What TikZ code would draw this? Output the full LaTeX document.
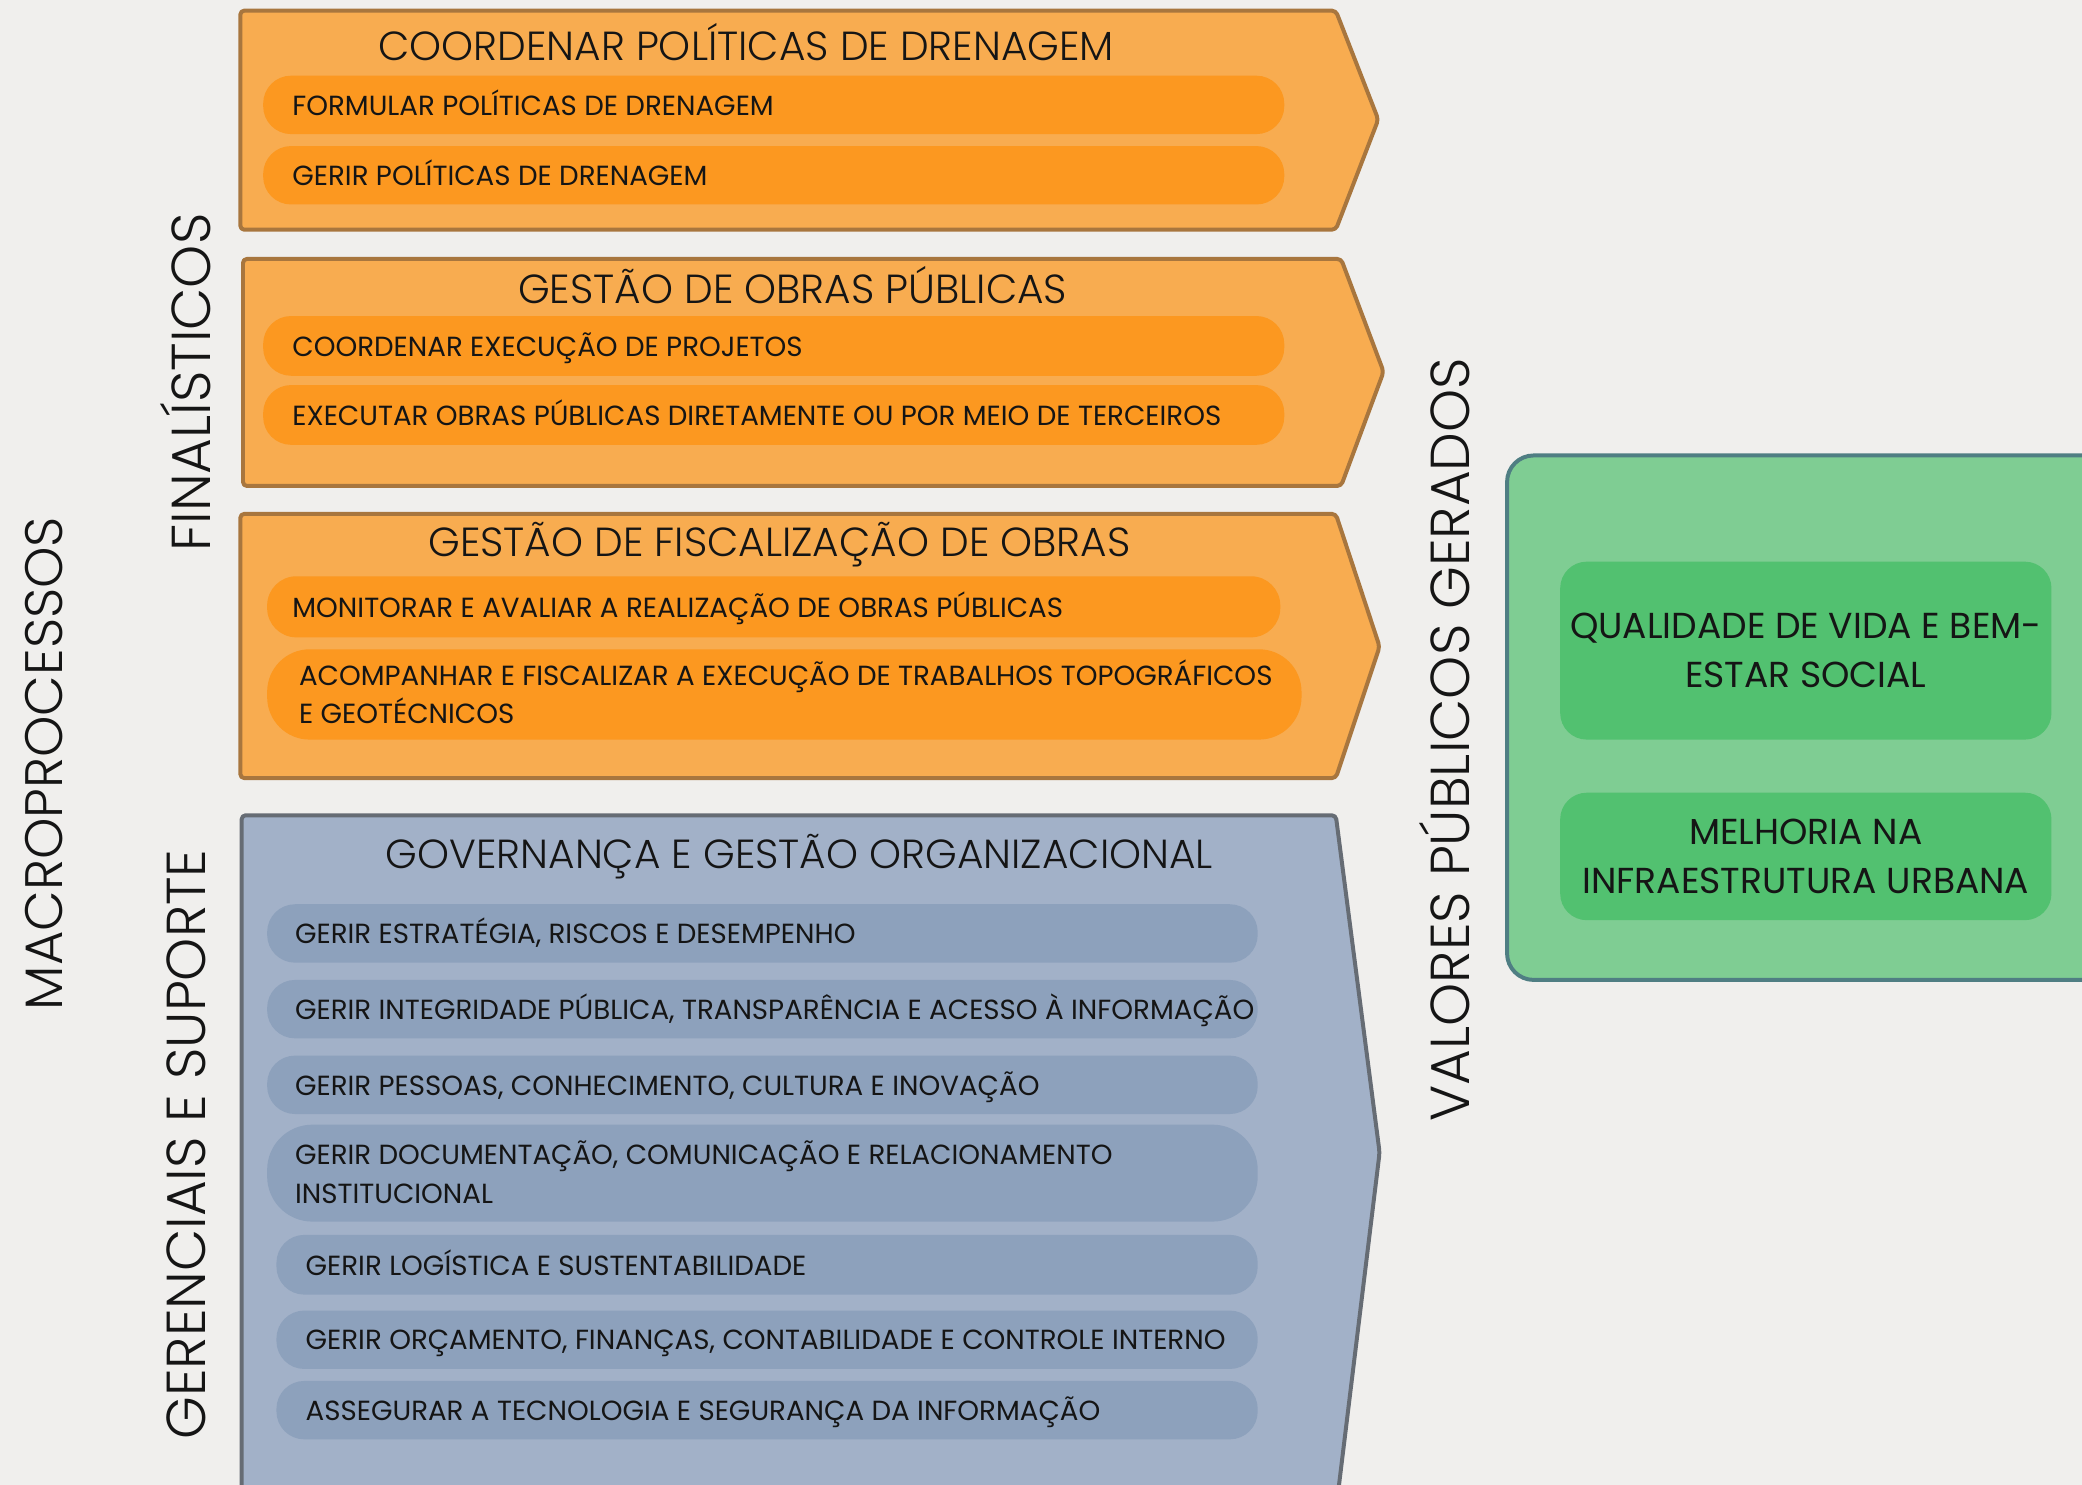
\documentclass[tikz,border=0pt]{standalone}
\usepackage{fontspec}
\setmainfont{Poppins}
\newfontfamily\lightfont{Poppins Light}
\definecolor{bgc}{HTML}{F0EFED}
\definecolor{obox}{HTML}{F8AC50}
\definecolor{oline}{HTML}{A8763E}
\definecolor{opill}{HTML}{FC9820}
\definecolor{bbox}{HTML}{A2B1C8}
\definecolor{bline}{HTML}{666C74}
\definecolor{bpill}{HTML}{8DA1BC}
\definecolor{gbox}{HTML}{7FCD93}
\definecolor{gline}{HTML}{4F7E83}
\definecolor{gpill}{HTML}{52C170}
\definecolor{txt}{HTML}{151515}
\begin{document}
\begin{tikzpicture}[x=1pt,y=-1pt,
  every node/.style={text=txt},
  chevron/.style={line width=3pt, line join=round, rounded corners=3pt},
  obx/.style={chevron, draw=oline, fill=obox},
  bbx/.style={chevron, draw=bline, fill=bbox},
  title/.style={font=\lightfont\fontsize{30.6}{34}\selectfont, inner sep=0pt},
  pillbox/.style={anchor=west, inner sep=0pt, rounded corners=21pt, minimum height=44pt},
  opillst/.style={pillbox, fill=opill},
  bpillst/.style={pillbox, fill=bpill},
  ptext/.style={anchor=base west, inner sep=0pt, font=\fontsize{20.85}{29}\selectfont},
  side/.style={rotate=90, font=\lightfont\fontsize{41.3}{42}\selectfont, inner sep=0pt},
  gval/.style={fill=gpill, rounded corners=20pt, align=center, font=\fontsize{27.2}{37}\selectfont, minimum width=370pt}
]
\useasboundingbox (0,0) rectangle (1568,1118);
\fill[bgc] (0,0) rectangle (1568,1118);
\clip (0,0) rectangle (1568,1118);

% box 1
\draw[obx] (181,8) -- (1006,8) -- (1038,90) -- (1006,173) -- (181,173) -- cycle;
\node[title] (t1) at (562,32) {COORDENAR POLÍTICAS DE DRENAGEM};
\node[opillst, minimum width=769pt] (p11) at (198,79) {};
\node[ptext] (p11t) at ([xshift=22pt,yshift=-7.7pt]p11.west) {FORMULAR POLÍTICAS DE DRENAGEM};
\node[opillst, minimum width=769pt] (p12) at (198,132) {};
\node[ptext] (p12t) at ([xshift=22pt,yshift=-7.7pt]p12.west) {GERIR POLÍTICAS DE DRENAGEM};

% box 2
\draw[obx] (183,195) -- (1010,195) -- (1042,280) -- (1010,366) -- (183,366) -- cycle;
\node[title] (t2) at (597,215) {GESTÃO DE OBRAS PÚBLICAS};
\node[opillst, minimum width=769pt, minimum height=45pt] (p21) at (198,260.5) {};
\node[ptext] (p21t) at ([xshift=22pt,yshift=-8.2pt]p21.west) {COORDENAR EXECUÇÃO DE PROJETOS};
\node[opillst, minimum width=769pt, minimum height=45pt] (p22) at (198,312.5) {};
\node[ptext] (p22t) at ([xshift=22pt,yshift=-8.2pt]p22.west) {EXECUTAR OBRAS PÚBLICAS DIRETAMENTE OU POR MEIO DE TERCEIROS};

% box 3
\draw[obx] (181,387) -- (1006,387) -- (1039,487) -- (1006,586) -- (181,586) -- cycle;
\node[title] (t3) at (587,410) {GESTÃO DE FISCALIZAÇÃO DE OBRAS};
\node[opillst, minimum width=763pt, minimum height=46pt, rounded corners=22pt] (p31) at (201,457) {};
\node[ptext] (p31t) at ([xshift=19pt,yshift=-7.7pt]p31.west) {MONITORAR E AVALIAR A REALIZAÇÃO DE OBRAS PÚBLICAS};
\node[opillst, minimum width=779pt, minimum height=68pt, rounded corners=32pt] (p32) at (201,523) {};
\node[ptext] (p32a) at ([xshift=24pt,yshift=6.8pt]p32.west) {ACOMPANHAR E FISCALIZAR A EXECUÇÃO DE TRABALHOS TOPOGRÁFICOS};
\node[ptext] (p32b) at ([xshift=24pt,yshift=-22.2pt]p32.west) {E GEOTÉCNICOS};

% box 4
\draw[bbx] (182,614) -- (1006,614) -- (1039,868) -- (1007,1130) -- (182,1130) -- cycle;
\node[title] (t4) at (602,645) {GOVERNANÇA E GESTÃO ORGANIZACIONAL};
\node[bpillst, minimum width=746pt] (q1) at (201,703) {};
\node[ptext] (q1t) at ([xshift=21pt,yshift=-7.7pt]q1.west) {GERIR ESTRATÉGIA, RISCOS E DESEMPENHO};
\node[bpillst, minimum width=746pt] (q2) at (201,760) {};
\node[ptext] (q2t) at ([xshift=21pt,yshift=-7.7pt]q2.west) {GERIR INTEGRIDADE PÚBLICA, TRANSPARÊNCIA E ACESSO À INFORMAÇÃO};
\node[bpillst, minimum width=746pt] (q3) at (201,817) {};
\node[ptext] (q3t) at ([xshift=21pt,yshift=-7.7pt]q3.west) {GERIR PESSOAS, CONHECIMENTO, CULTURA E INOVAÇÃO};
\node[bpillst, minimum width=746pt, minimum height=73pt, rounded corners=34pt] (q4) at (201,883.5) {};
\node[ptext] (q4a) at ([xshift=21pt,yshift=6.3pt]q4.west) {GERIR DOCUMENTAÇÃO, COMUNICAÇÃO E RELACIONAMENTO};
\node[ptext] (q4b) at ([xshift=21pt,yshift=-22.7pt]q4.west) {INSTITUCIONAL};
\node[bpillst, minimum width=739pt, minimum height=45pt] (q5) at (208,952.5) {};
\node[ptext] (q5t) at ([xshift=22pt,yshift=-8.2pt]q5.west) {GERIR LOGÍSTICA E SUSTENTABILIDADE};
\node[bpillst, minimum width=739pt] (q6) at (208,1009) {};
\node[ptext] (q6t) at ([xshift=22pt,yshift=-7.7pt]q6.west) {GERIR ORÇAMENTO, FINANÇAS, CONTABILIDADE E CONTROLE INTERNO};
\node[bpillst, minimum width=739pt] (q7) at (208,1062) {};
\node[ptext] (q7t) at ([xshift=22pt,yshift=-7.7pt]q7.west) {ASSEGURAR A TECNOLOGIA E SEGURANÇA DA INFORMAÇÃO};

% side labels
\node[side, font=\lightfont\fontsize{39.7}{42}\selectfont] (macro) at (33,575) {MACROPROCESSOS};
\node[side] (fin) at (140,288) {FINALÍSTICOS};
\node[side] (ger) at (140,862) {GERENCIAIS E SUPORTE};
\node[side] (val) at (1088,557) {VALORES PÚBLICOS GERADOS};

% values
\draw[draw=gline, fill=gbox, line width=3pt, rounded corners=20pt] (1135,343) rectangle (1610,738);
\node[gval, minimum height=134pt] (v1) at (1360,490) {QUALIDADE DE VIDA E BEM-\\ESTAR SOCIAL};
\node[gval, minimum height=96pt] (v2) at (1360,645) {MELHORIA NA\\INFRAESTRUTURA URBANA};
\end{tikzpicture}
\end{document}
